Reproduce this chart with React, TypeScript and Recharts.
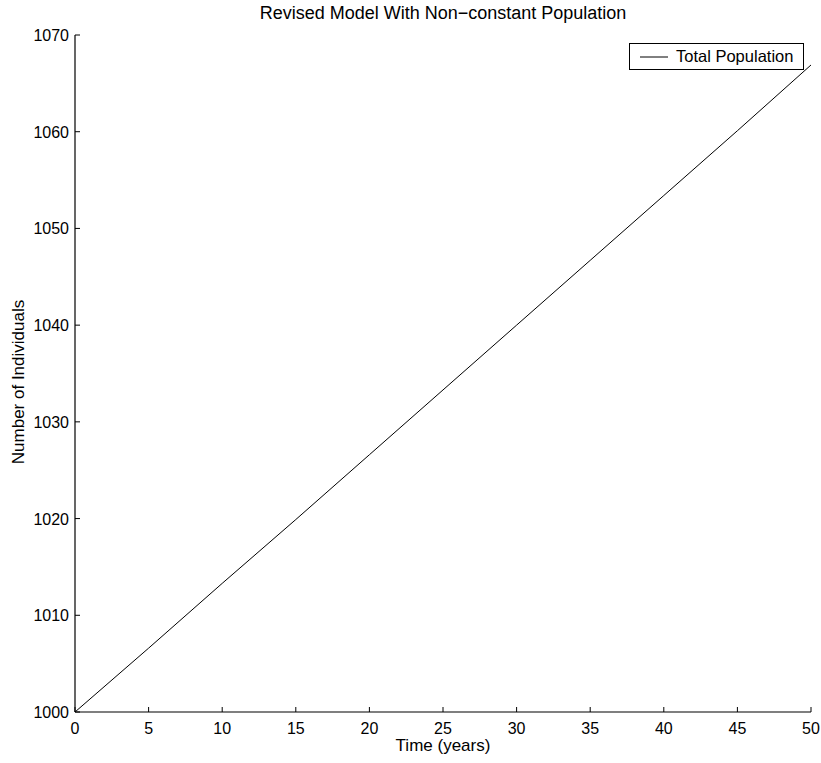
import React from "react"
import { LineChart, Line, XAxis, YAxis } from "recharts"

// years since start
const years = [0, 5, 10, 15, 20, 25, 30, 35, 40, 45, 50]
// total population
const totalPopulation = [1000, 1006.6, 1013.3, 1019.9, 1026.6, 1033.3, 1040.0, 1046.7, 1053.4, 1060.1, 1066.9]

const xTicks = [0, 5, 10, 15, 20, 25, 30, 35, 40, 45, 50]
const yTicks = [1000, 1010, 1020, 1030, 1040, 1050, 1060, 1070]

const FONT = "'Liberation Sans', Arial, Helvetica, sans-serif"

const data = years.map((t, i) => ({ t, total: totalPopulation[i] }))

function XTick(props: any) {
  const { x, y, payload } = props
  return (
    <g>
      <line x1={x} y1={y} x2={x} y2={y - 5} stroke="#000" strokeWidth={1} />
      <text x={x} y={y + 22} textAnchor="middle" fontSize={16} fontFamily={FONT} fill="#000">
        {payload.value}
      </text>
    </g>
  )
}

function YTick(props: any) {
  const { x, y, payload } = props
  return (
    <g>
      <line x1={x} y1={y} x2={x + 5} y2={y} stroke="#000" strokeWidth={1} />
      <text x={x - 6} y={y + 6} textAnchor="end" fontSize={16} fontFamily={FONT} fill="#000">
        {payload.value}
      </text>
    </g>
  )
}

function LegendBox() {
  return (
    <div
      style={{
        position: "absolute",
        left: 629,
        top: 43,
        width: 173,
        height: 25,
        border: "1px solid #000",
        background: "#fff",
        display: "flex",
        alignItems: "center",
        fontFamily: FONT,
        fontSize: 16.5,
        color: "#000",
      }}
    >
      <svg width={46} height={25}>
        <line x1={10} y1={13} x2={38} y2={13} stroke="#000" strokeWidth={1} />
      </svg>
      <span>Total Population</span>
    </div>
  )
}

export default function App() {
  return (
    <div style={{ position: "absolute", left: 0, top: 0, width: 821, height: 763, background: "#fff" }}>
      <div
        style={{
          position: "absolute",
          left: 75,
          width: 736,
          top: 3,
          textAlign: "center",
          fontFamily: FONT,
          fontSize: 18,
          color: "#000",
        }}
      >
        Revised Model With Non−constant Population
      </div>
      <LineChart width={821} height={763} data={data} margin={{ top: 35, right: 10, bottom: 0, left: 0 }}>
        <XAxis
          dataKey="t"
          type="number"
          domain={[0, 50]}
          ticks={xTicks}
          height={51}
          tickSize={0}
          tickMargin={0}
          tickLine={false}
          tick={<XTick />}
          axisLine={{ stroke: "#000", strokeWidth: 1.2 }}
          label={{
            content: () => (
              <text x={443} y={751} textAnchor="middle" fontSize={17} fontFamily={FONT} fill="#000">
                Time (years)
              </text>
            ),
          }}
        />
        <YAxis
          type="number"
          domain={[1000, 1070]}
          ticks={yTicks}
          width={75}
          tickSize={0}
          tickMargin={0}
          tickLine={false}
          tick={<YTick />}
          axisLine={{ stroke: "#000", strokeWidth: 1.2 }}
          label={{
            content: () => (
              <text
                transform="translate(24, 382) rotate(-90)"
                textAnchor="middle"
                fontSize={17}
                fontFamily={FONT}
                fill="#000"
              >
                Number of Individuals
              </text>
            ),
          }}
        />
        <Line
          type="linear"
          dataKey="total"
          stroke="#000"
          strokeWidth={1}
          dot={false}
          isAnimationActive={false}
        />
      </LineChart>
      <LegendBox />
    </div>
  )
}
